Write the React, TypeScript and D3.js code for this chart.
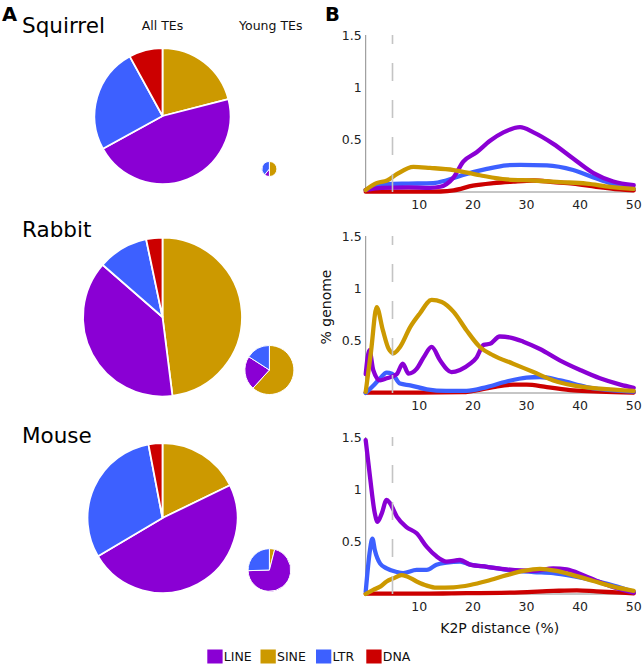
import React from "react";
import * as d3 from "d3";

const species = ["Squirrel", "Rabbit", "Mouse"];
const teTypes = ["LINE", "SINE", "LTR", "DNA"];
const teColors = ["#8A00D4", "#CC9900", "#3D60FF", "#CC0000"];

// pie slice order clockwise from 12 o'clock: SINE, LINE, LTR, DNA
const pieOrder = ["SINE", "LINE", "LTR", "DNA"];
const allTEShares = [
  [21, 46, 25, 8],
  [48, 38.4, 10.3, 3.3],
  [17.8, 48.7, 30.5, 3.0],
];
const youngTEShares = [
  [50, 11, 39, 0],
  [61.7, 22.4, 15.9, 0],
  [4, 70.5, 25.5, 0],
];
// relative total sizes (area of pies)
const allTETotal = [36.6, 50, 44.5];
const youngTETotal = [0.45, 4.75, 3.6];

const yTicks = [0.5, 1, 1.5];
const xTicks = [10, 20, 30, 40, 50];

// K2P distance landscapes, [x, %genome]
const sqLINE = [[0,0.02],[3,0.04],[8,0.045],[12,0.04],[13.9,0.05],[16.4,0.14],[18.2,0.29],[20.7,0.38],[23.2,0.49],[25.7,0.57],[28.8,0.62],[31.3,0.57],[35,0.46],[38.7,0.32],[42.5,0.18],[46.2,0.1],[50,0.065]];
const sqLTR = [[0,0.02],[1.7,0.06],[4,0.075],[8,0.08],[12.6,0.085],[15,0.11],[18,0.16],[22.6,0.22],[26.3,0.255],[28.8,0.26],[33.8,0.255],[38.7,0.21],[42.5,0.14],[46,0.08],[50,0.03]];
const sqSINE = [[0,0.02],[2,0.085],[4,0.11],[5.8,0.17],[8.9,0.24],[12,0.23],[16.4,0.21],[21.3,0.16],[26.3,0.12],[31.3,0.11],[36.3,0.095],[41.2,0.08],[45.6,0.05],[50,0.03]];
const sqDNA = [[0,0.003],[10,0.003],[14,0.005],[16.4,0.015],[20,0.06],[23.8,0.085],[27.5,0.1],[31.3,0.11],[35,0.095],[38.7,0.08],[43,0.05],[47.4,0.025],[50,0.015]];

const rbSINE = [[0,0.01],[1,0.4],[2.05,0.82],[3.2,0.6],[4.3,0.42],[5.2,0.38],[6.4,0.44],[8.3,0.63],[10.1,0.76],[12.3,0.89],[14.2,0.87],[16.4,0.775],[18.8,0.6],[21.3,0.44],[23.8,0.36],[27.5,0.28],[31.3,0.2],[35,0.12],[38.7,0.073],[43.7,0.041],[50,0.02]];
const rbLINE = [[0,0.18],[0.7,0.41],[1.4,0.22],[2.7,0.12],[3.9,0.14],[5.8,0.18],[6.9,0.28],[8,0.185],[9.5,0.23],[10.8,0.34],[12.3,0.44],[13.9,0.31],[16,0.2],[17.6,0.22],[19.5,0.28],[20.7,0.34],[22,0.46],[23.2,0.47],[25,0.54],[27,0.53],[29.4,0.49],[32.5,0.42],[36.3,0.31],[40,0.22],[43.7,0.14],[47.5,0.08],[50,0.05]];
const rbLTR = [[0,0.0],[1.4,0.07],[2.7,0.14],[3.9,0.195],[4.9,0.185],[6.4,0.09],[8.3,0.073],[11.4,0.035],[15,0.02],[18.8,0.02],[22.6,0.057],[26.3,0.11],[30,0.147],[32.5,0.153],[36.3,0.12],[41.2,0.057],[46.2,0.025],[50,0.013]];
const rbDNA = [[0,0.004],[10,0.004],[18,0.008],[20,0.02],[23.8,0.057],[27.5,0.08],[30,0.08],[33.8,0.057],[38.7,0.025],[43.7,0.013],[50,0.005]];

const msLINE = [[0,1.47],[0.8,1.12],[1.7,0.77],[2.2,0.69],[3,0.77],[3.9,0.9],[4.5,0.87],[5.8,0.74],[7.6,0.64],[9.5,0.58],[11.4,0.45],[13.2,0.36],[15.1,0.31],[17.6,0.325],[19.5,0.28],[22.6,0.26],[26.3,0.235],[31.3,0.22],[35,0.245],[37.5,0.235],[40.6,0.18],[44.3,0.1],[47.5,0.045],[50,0.013]];
const msLTR = [[0,0.02],[0.8,0.42],[1.25,0.53],[1.7,0.42],[2.7,0.29],[3.9,0.245],[5.8,0.21],[7,0.2],[9.5,0.23],[11.4,0.23],[13.2,0.28],[15.1,0.3],[17.6,0.31],[19.5,0.28],[22.6,0.26],[26.3,0.23],[31.3,0.21],[35,0.2],[38.7,0.17],[42.5,0.13],[46.2,0.08],[50,0.022]];
const msSINE = [[0,0.0],[1.4,0.04],[2.7,0.07],[3.9,0.12],[5.2,0.15],[6.7,0.18],[7.6,0.17],[9.5,0.12],[11.4,0.08],[13.2,0.06],[16.4,0.064],[19.5,0.086],[22.6,0.124],[26.3,0.18],[29.4,0.22],[32.5,0.24],[35.6,0.22],[38.7,0.18],[42.5,0.124],[46.2,0.07],[50,0.03]];
const msDNA = [[0,0.003],[10,0.003],[16,0.006],[28.8,0.016],[35,0.029],[39.4,0.035],[43,0.025],[47.5,0.013],[50,0.006]];

const landscapes = [
  { LINE: sqLINE, SINE: sqSINE, LTR: sqLTR, DNA: sqDNA },
  { LINE: rbLINE, SINE: rbSINE, LTR: rbLTR, DNA: rbDNA },
  { LINE: msLINE, SINE: msSINE, LTR: msLTR, DNA: msDNA },
];
const youngCutoff = 5;

const FONT = "'DejaVu Sans', Verdana, sans-serif";
const colorOf = (t: string) => teColors[teTypes.indexOf(t)];

function Pie({ cx, cy, r, shares, sw }: any) {
  const pie = d3.pie<number>().sort(null).value((d) => d);
  const arcs = pie(shares);
  const arc = d3.arc<any>().innerRadius(0).outerRadius(r);
  return (
    <g transform={`translate(${cx},${cy})`}>
      {arcs.map((a, i) =>
        a.value > 0 ? (
          <path key={i} d={arc(a) as string} fill={colorOf(pieOrder[i])} stroke="#fff" strokeWidth={sw} strokeLinejoin="round" />
        ) : null
      )}
    </g>
  );
}

function Landscape({ idx, top }: any) {
  const x = d3.scaleLinear().domain([0, 50]).range([365.7, 633.7]);
  const y = d3.scaleLinear().domain([0, 1.5]).range([top + 157, top]);
  const line = d3
    .line<number[]>()
    .x((d) => x(d[0]))
    .y((d) => y(d[1]))
    .curve(d3.curveMonotoneX);
  const order = ["DNA", "LTR", "LINE", "SINE"];
  const data: any = landscapes[idx];
  return (
    <g>
      <line x1={x(0)} x2={x(0)} y1={y(0)} y2={y(1.5)} stroke="#8c8c8c" strokeWidth={1} />
      <line x1={x(0)} x2={x(50)} y1={y(0)} y2={y(0)} stroke="#8c8c8c" strokeWidth={1} />
      {yTicks.map((t) => (
        <text key={t} x={x(0) - 4} y={y(t)} dy="0.36em" textAnchor="end" fontSize={12.5} fontFamily={FONT} fill="#222">
          {t}
        </text>
      ))}
      {xTicks.map((t) => (
        <text key={t} x={x(t)} y={y(0) + 12} dy="0.36em" textAnchor="middle" fontSize={12.5} fontFamily={FONT} fill="#222">
          {t}
        </text>
      ))}
      {order.map((k) => (
        <path key={k} d={line(data[k]) as string} fill="none" stroke={colorOf(k)} strokeWidth={4.3} strokeLinejoin="round" strokeLinecap="round" />
      ))}
      <line x1={x(youngCutoff)} x2={x(youngCutoff)} y1={y(0)} y2={y(1.5)} stroke="#c4c4c4" strokeWidth={1.6} strokeDasharray="18,19" />
    </g>
  );
}

export default function App() {
  const rAll = d3.scaleSqrt().domain([0, 50]).range([0, 79.5]);
  const pieRows = [116, 317, 518];
  const labelY = [33, 237, 443];
  return (
    <svg width={644} height={665} style={{ position: "absolute", left: 0, top: 0 }} fontFamily={FONT}>
      <rect width={644} height={665} fill="#fff" />
      <text x={2} y={21} fontSize={19.5} fontWeight="bold" fill="#000">A</text>
      <text x={325} y={21} fontSize={19.5} fontWeight="bold" fill="#000">B</text>
      <text x={162.5} y={30} textAnchor="middle" fontSize={12.5} fill="#111">All TEs</text>
      <text x={270.8} y={30} textAnchor="middle" fontSize={12.5} fill="#111">Young TEs</text>
      {species.map((s, i) => (
        <g key={s}>
          <text x={22} y={labelY[i]} fontSize={21.5} fill="#000">{s}</text>
          <Pie cx={162.5} cy={pieRows[i]} r={rAll(allTETotal[i])} shares={allTEShares[i]} sw={1.8} />
          <Pie cx={269.4} cy={[169, 370, 570][i]} r={rAll(youngTETotal[i])} shares={youngTEShares[i]} sw={1} />
        </g>
      ))}
      {species.map((s, i) => (
        <Landscape key={s} idx={i} top={35 + i * 201} />
      ))}
      <text transform="translate(331,307) rotate(-90)" textAnchor="middle" fontSize={14} fill="#111">% genome</text>
      <text x={499.7} y={633} textAnchor="middle" fontSize={14} fill="#111">K2P distance (%)</text>
      {teTypes.map((t, i) => {
        const xs = [207.3, 260.5, 316, 366.3][i];
        return (
          <g key={t}>
            <rect x={xs} y={649.5} width={15.3} height={14} fill={teColors[i]} />
            <text x={xs + 16.5} y={661} fontSize={12.5} fill="#111">{t}</text>
          </g>
        );
      })}
    </svg>
  );
}
